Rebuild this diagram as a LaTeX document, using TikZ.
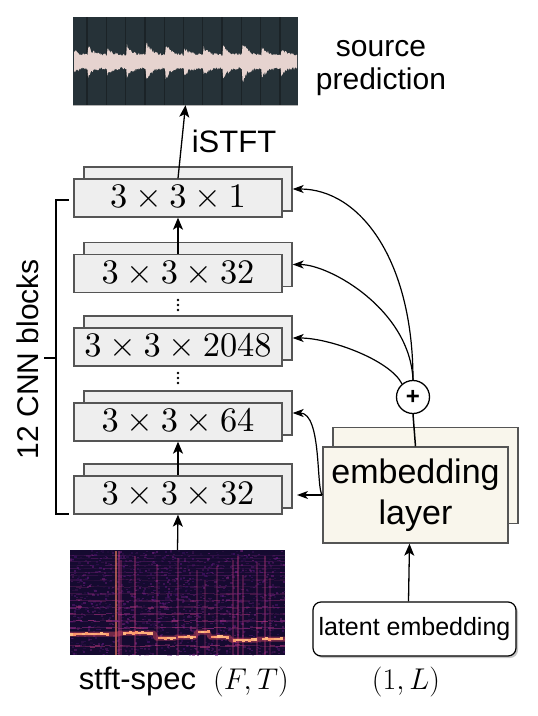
\documentclass[tikz,border=0pt]{standalone}
\usepackage{fix-cm}
\usepackage{graphicx}
\usepackage{fontspec}
\newfontfamily\arial{Liberation Sans}
\usetikzlibrary{arrows.meta,calc,shadows}
\definecolor{wavebg}{HTML}{263238}
\definecolor{waveline}{HTML}{1B2327}
\definecolor{wavefg}{HTML}{E6D3CF}
\definecolor{boxfill}{HTML}{EEEEEE}
\definecolor{boxedge}{HTML}{555555}
\definecolor{embfill}{HTML}{F9F6EC}
\definecolor{specbg}{HTML}{150A30}
\definecolor{mgA}{HTML}{4F127B}
\definecolor{mgB}{HTML}{812581}
\definecolor{mgC}{HTML}{B5367A}
\definecolor{mgD}{HTML}{E55064}
\definecolor{mgE}{HTML}{FB8761}
\definecolor{mgF}{HTML}{FEC287}
\begin{document}
\begin{tikzpicture}[x=1pt,y=-1pt,
  front/.style={draw=boxedge, fill=boxfill, line width=1.3pt, minimum width=208pt, minimum height=38pt, inner sep=0pt},
  back/.style={draw=boxedge, fill=boxfill, line width=1.3pt, minimum width=208pt, minimum height=44pt, inner sep=0pt},
  embbox/.style={draw=boxedge, fill=embfill, line width=1.3pt, minimum width=185pt, minimum height=96pt, inner sep=0pt},
  arr/.style={-{Stealth[length=12pt,width=10pt,inset=3pt]}, line width=1.3pt},
  sarr/.style={-{Stealth[length=11pt,width=8pt,inset=3pt]}, line width=1.2pt},
  lbl/.style={font=\arial\fontsize{30}{36}\selectfont, inner sep=0pt},
  mlbl/.style={font=\fontsize{30}{36}\selectfont, inner sep=0pt},
]
\useasboundingbox (0,0) rectangle (538,716);
\pgfmathsetseed{7}

% ---------- waveform ----------
\node[fill=wavebg, minimum width=225pt, minimum height=88pt, inner sep=0pt] (wave) at (185.5,61) {};
\foreach \x in {87,106.3,...,297}
  \draw[waveline, line width=1.3pt] (\x,17) -- (\x,105);
\fill[wavefg] plot[domain=74:297, samples=300] (\x,{61-(6+10*(1+0.35*sin(floor((\x+414)/19.3)*77))*exp(-mod(\x+414,19.3)/5))*(0.8+0.4*rnd)})
  -- plot[domain=297:74, samples=300] (\x,{62+(6+10*(1+0.35*sin(floor((\x+414)/19.3)*77))*exp(-mod(\x+414,19.3)/5))*(0.8+0.4*rnd)}) -- cycle;
\draw[gray!60, line width=0.8pt] (wave.south west) -- (wave.south east);

\node[lbl, anchor=base] (src1) at (381,56) {source};
\node[lbl, anchor=base] (src2) at (381,89) {prediction};
\node[lbl, anchor=base, font=\arial\fontsize{31}{36}\selectfont] (istft) at (234,152) {iSTFT};

% ---------- CNN blocks ----------
\node[back] (b1) at (188,189) {};
\node[front] (f1) at (178,198) {\scalebox{3.44}{$3\times3\times1$}};
\node[back] (b2) at (188,264.5) {};
\node[front] (f2) at (178,273.5) {\scalebox{3.44}{$3\times3\times32$}};
\node[back] (b3) at (188,338) {};
\node[front] (f3) at (178,347) {\scalebox{3.44}{$3\times3\times2048$}};
\node[back] (b4) at (188,413) {};
\node[front] (f4) at (178,422) {\scalebox{3.44}{$3\times3\times64$}};
\node[back] (b5) at (188,486) {};
\node[front] (f5) at (178,495) {\scalebox{3.44}{$3\times3\times32$}};

% vertical dots
\coordinate (d1) at (178,305);
\coordinate (d2) at (178,378);
\foreach \d in {d1,d2}
  \foreach \dy in {-5,0,5}
    \fill ([yshift=-\dy pt]\d) circle (1.3pt);

\draw[arr] (f1.north) -- (wave.south);
\draw[arr] (f2.north) -- (f1.south);
\draw[arr] (f5.north) -- (f4.south);

% bracket
\coordinate (bt) at (69,200);
\coordinate (bb) at (69,514);
\draw[line width=1.3pt] (bt) -- (56,200) -- (56,514) -- (bb);
\coordinate (bm) at (56,358);
\coordinate (bl) at (44,358);
\draw[line width=1.3pt] (bm) -- (bl);
\node[lbl, rotate=90, anchor=base] (cnn) at (38,359) {12 CNN blocks};

% ---------- spectrogram ----------
\node[fill=specbg, minimum width=215pt, minimum height=105pt, inner sep=0pt] (spec) at (177.5,602.5) {};
\begin{scope}
\clip (70,550) rectangle (285,655);
% texture
\foreach \i in {1,...,1400}{
  \pgfmathsetmacro{\xx}{70+215*rnd}
  \pgfmathsetmacro{\yy}{550+105*rnd}
  \pgfmathsetmacro{\oo}{0.1+0.45*rnd}
  \pgfmathsetmacro{\mm}{int(100*rnd)}
  \fill[mgB!\mm!mgA, opacity=\oo] (\xx,\yy) rectangle ++(2.2,1.5);
}
% faint high striations
\foreach \k in {0,...,6}{
  \pgfmathsetmacro{\yy}{555+\k*3.4}
  \foreach \xs in {70,77,...,280}{
    \pgfmathsetmacro{\oo}{0.05+0.35*rnd}
    \draw[mgB, opacity=\oo, line width=0.9pt] (\xs,\yy) -- ++(7,0);
  }
}
% onsets
\foreach \xv/\oo/\ys in {121/0.35/560,135/0.4/556,157/0.3/565,178/0.35/558,197/0.3/570,205/0.25/580,217/0.3/566,233/0.35/560,238/0.45/556,243/0.35/575,257/0.3/562,265/0.4/556,270/0.25/578}
  \draw[mgC, opacity=\oo, line width=1.3pt] (\xv,\ys) -- (\xv,655);
\draw[mgE, opacity=0.6, line width=1.5pt] (116,551) -- (116,655);
\draw[mgC, opacity=0.55, line width=1.1pt] (119,551) -- (119,655);
% harmonics
\foreach \k in {1,...,8}{
  \foreach \xs in {70,76,...,280}{
    \pgfmathsetmacro{\oo}{(0.2+0.7*rnd)*(1-\k/11)}
    \pgfmathsetmacro{\yy}{634-\k*6.8+1.2*rnd}
    \pgfmathsetmacro{\mm}{int(100*rnd)}
    \draw[mgC!\mm!mgB, opacity=\oo, line width=1.4pt] (\xs,\yy) -- ++(6,0);
  }
}
% low band
\foreach \xs in {70,75,...,282}{
  \pgfmathsetmacro{\yy}{645+2*rnd}
  \pgfmathsetmacro{\oo}{0.25+0.4*rnd}
  \draw[mgC, opacity=\oo, line width=1.4pt] (\xs,\yy) -- ++(5,0);
}
% fundamental glow
\draw[mgD, opacity=0.45, line width=5pt, line join=round]
  (70,634) -- (118,634) -- (120,633) -- (154,633) -- (156,638) -- (175,638) -- (177,637) -- (195,637) -- (197,632) -- (208,632)
  -- (210,637) -- (229,637) -- (231,640) -- (257,640) -- (259,639) -- (285,639);
% fundamental core
\foreach \a/\b/\y in {70/108/634,123/151/633,158/174/638,178/193/637,198/207/632,211/227/637,233/254/640,262/280/639}{
  \pgfmathsetmacro{\aa}{\a+3}
  \foreach \xs in {\a,\aa,...,\b}{
    \pgfmathsetmacro{\yy}{\y+1.2*rnd-0.6}
    \pgfmathsetmacro{\mm}{int(20+80*rnd)}
    \draw[mgF!\mm!mgE, line width=2.4pt] (\xs,\yy) -- ++(3.2,0);
  }
}
\end{scope}
\draw[arr] (spec.north) -- (f5.south);

\node[lbl, anchor=base, font=\arial\fontsize{31}{36}\selectfont] (stft) at (137.5,689) {stft-spec};
\node[mlbl, anchor=base] (ft) at (251,689) {$(F,T)$};
\node[mlbl, anchor=base] (onel) at (406,689) {$(1,L)$};

% ---------- embedding ----------
\node[embbox] (embb) at (425.5,475.5) {};
\node[embbox, align=center, font=\arial\fontsize{34}{41}\selectfont] (emb) at (415.5,495) {embedding\\layer};

\node[draw=black, fill=white, line width=1.2pt, rounded corners=8pt, minimum width=203pt, minimum height=54pt, inner sep=0pt,
  font=\arial\fontsize{25}{30}\selectfont,
  drop shadow={shadow xshift=2pt, shadow yshift=-2pt, fill=gray!45, opacity=1}] (lat) at (414.5,629) {latent embedding};

\draw[arr] ([xshift=-6pt]lat.north) -- ([xshift=-6pt]emb.south);

\node[circle, draw=black, fill=white, line width=1.3pt, minimum size=33pt, inner sep=0pt, font=\arial\bfseries\fontsize{24}{28}\selectfont] (plus) at (413,397) {+};
\draw[line width=1.5pt] (emb.north) -- (plus.south);

\draw[sarr] (plus.north) .. controls (413,260) and (360,189) .. (b1.east);
\draw[sarr] (plus.north) .. controls (410,310) and (330,264.5) .. (b2.east);
\draw[sarr] (plus.130) .. controls (390,360) and (330,338) .. (b3.east);
\draw[sarr] (emb.west) .. controls (316,490) and (322,413) .. (b4.east);
\coordinate (c5) at (297,495);
\draw[sarr] (emb.west) -- (c5);
\end{tikzpicture}
\end{document}
